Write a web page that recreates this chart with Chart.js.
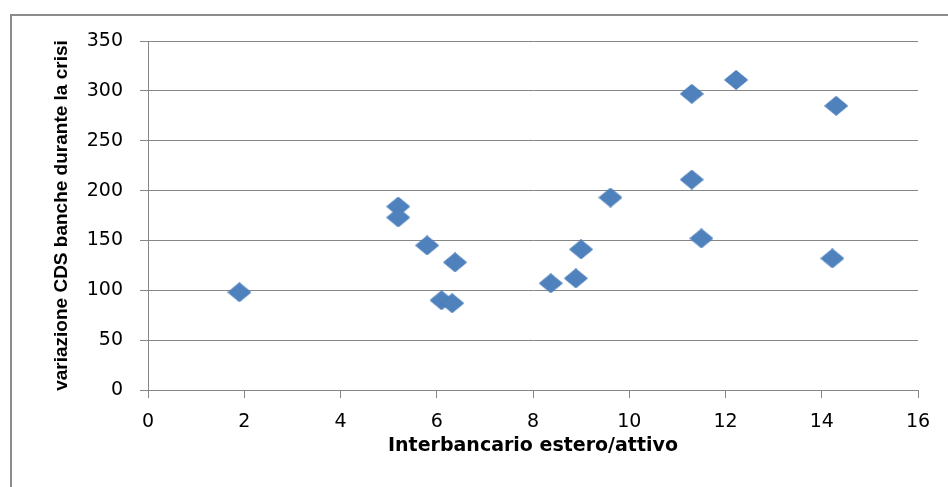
<!DOCTYPE html>
<html>
<head>
<meta charset="utf-8">
<script src="https://cdn.jsdelivr.net/npm/chart.js@4.4.1/dist/chart.umd.min.js"></script>
<style>
  body { margin: 0; background: #fff; }
  #frame { position: absolute; left: 10px; top: 14px; width: 1000px; height: 600px;
           border-left: 2px solid #8c8c8c; border-top: 2px solid #8c8c8c; }
  #chart { position: absolute; left: 0; top: 0; }
</style>
</head>
<body>
<div id="frame"></div>
<canvas id="chart" width="948" height="487"></canvas>
<script>
// interbancario estero / attivo  vs  variazione CDS
const xValues = [1.9, 5.2, 5.2, 5.8, 6.38, 6.1, 6.32, 8.37, 8.89, 9.0, 9.61, 11.3, 12.22, 11.3, 11.5, 14.22, 14.3];
const yValues = [98, 184, 173, 145, 128, 90, 87, 107, 112, 141, 193, 297, 311, 211, 152, 132, 285];

const xTitle = 'Interbancario estero/attivo';
const yTitle = 'variazione CDS banche durante la crisi';

const gridGray = '#868686';

// diamond marker, a bit wider than tall like the Excel one
function makeDiamond() {
  const c = document.createElement('canvas');
  c.width = 24; c.height = 20;
  const g = c.getContext('2d');
  g.beginPath();
  g.moveTo(0.5, 10);
  g.lineTo(12, 0.5);
  g.lineTo(23.5, 10);
  g.lineTo(12, 19.5);
  g.closePath();
  g.fillStyle = '#4F81BD';
  g.fill();
  g.strokeStyle = '#4a7ebb';
  g.lineWidth = 1;
  g.stroke();
  return c;
}

const points = xValues.map((x, i) => ({x: x, y: yValues[i]}));

new Chart(document.getElementById('chart').getContext('2d'), {
  type: 'scatter',
  data: {
    datasets: [{
      data: points,
      pointStyle: makeDiamond(),
      pointRadius: 11
    }]
  },
  options: {
    responsive: false,
    animation: false,
    devicePixelRatio: 1,
    layout: { padding: {top: 41, right: 30, bottom: 0, left: 0} },
    plugins: { legend: {display: false}, tooltip: {enabled: false} },
    scales: {
      x: {
        type: 'linear',
        min: 0, max: 16,
        ticks: { stepSize: 2, color: '#000', padding: 13,
                 font: {family: 'DejaVu Sans', size: 19} },
        grid: { drawOnChartArea: false, tickLength: 8, color: gridGray },
        border: { color: gridGray, width: 1 },
        title: { display: true, text: xTitle, color: '#000',
                 font: {family: 'DejaVu Sans', size: 19, weight: 'bold'},
                 padding: {top: 0, bottom: 30} },
        afterFit: s => { s.height = 97; }
      },
      y: {
        min: 0, max: 350,
        ticks: { stepSize: 50, color: '#000', padding: 17,
                 font: {family: 'DejaVu Sans', size: 19} },
        grid: { color: gridGray, tickLength: 8 },
        border: { color: gridGray, width: 1 },
        title: { display: true, text: yTitle, color: '#000',
                 font: {family: 'Liberation Sans', size: 19, weight: 'bold'},
                 padding: {top: 50, bottom: 0} },
        afterFit: s => { s.width = 148; }
      }
    }
  }
});
</script>
</body>
</html>
